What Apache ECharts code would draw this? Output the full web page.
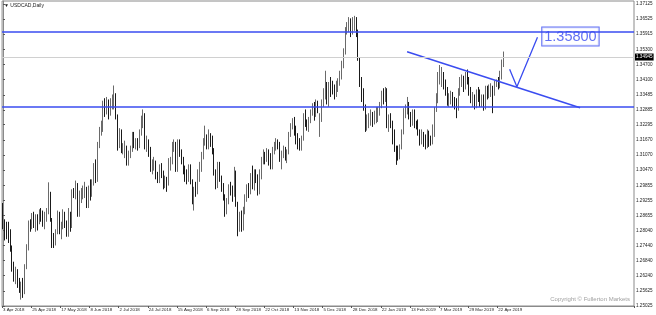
<!DOCTYPE html>
<html><head><meta charset="utf-8">
<script src="https://cdn.jsdelivr.net/npm/echarts@6/dist/echarts.min.js"></script>
<style>html,body{margin:0;padding:0;background:#fff}#c{width:656px;height:315px}</style>
</head><body><div id="c"></div>
<script>
const chartTitle = '\u25BC USDCAD,Daily';
const copyrightText = 'Copyright \u00A9 Fullerton Markets';
const dateTickLabels = ['3 Apr 2018','25 Apr 2018','17 May 2018','8 Jun 2018','2 Jul 2018','24 Jul 2018','15 Aug 2018','6 Sep 2018','28 Sep 2018','22 Oct 2018','13 Nov 2018','5 Dec 2018','28 Dec 2018','22 Jan 2019','13 Feb 2019','7 Mar 2019','29 Mar 2019','22 Apr 2019'];
const priceTicks = [1.37125,1.36525,1.35915,1.35300,1.34700,1.34100,1.33485,1.32885,1.32295,1.31670,1.31070,1.30470,1.29855,1.29255,1.28655,1.28040,1.27440,1.26840,1.26240,1.25625,1.25025];
const marketHolidays = ['25 Dec 2018','1 Jan 2019'];
// [open, close, low, high] one per trading day from 3 Apr 2018
const candles = [
[1.2895,1.2825,1.2810,1.2915],[1.2825,1.2810,1.2765,1.2850],[1.2810,1.2800,1.2770,1.2840],[1.2800,1.2795,1.2755,1.2840],
[1.2790,1.2730,1.2720,1.2810],[1.2730,1.2650,1.2640,1.2745],[1.2650,1.2615,1.2600,1.2680],[1.2615,1.2630,1.2590,1.2660],[1.2630,1.2595,1.2575,1.2650],
[1.2595,1.2575,1.2555,1.2615],[1.2575,1.2580,1.2528,1.2600],[1.2580,1.2560,1.2535,1.2615],[1.2560,1.2660,1.2550,1.2670],[1.2660,1.2740,1.2650,1.2750],
[1.2740,1.2830,1.2725,1.2845],[1.2830,1.2820,1.2800,1.2850],[1.2820,1.2865,1.2810,1.2875],[1.2865,1.2835,1.2815,1.2880],[1.2835,1.2840,1.2800,1.2870],
[1.2840,1.2835,1.2805,1.2870],[1.2835,1.2880,1.2830,1.2890],[1.2880,1.2870,1.2840,1.2895],[1.2870,1.2835,1.2820,1.2885],[1.2835,1.2860,1.2810,1.2880],
[1.2860,1.2885,1.2840,1.2895],[1.2885,1.2955,1.2870,1.2998],[1.2955,1.2850,1.2840,1.2960],[1.2850,1.2770,1.2735,1.2855],[1.2770,1.2765,1.2735,1.2795],
[1.2765,1.2795,1.2745,1.2810],[1.2795,1.2850,1.2790,1.2885],[1.2850,1.2810,1.2790,1.2880],[1.2810,1.2815,1.2770,1.2840],[1.2815,1.2870,1.2810,1.2890],
[1.2870,1.2830,1.2815,1.2880],[1.2830,1.2790,1.2780,1.2845],[1.2790,1.2860,1.2780,1.2895],[1.2860,1.2820,1.2800,1.2880],[1.2820,1.2960,1.2815,1.2970],
[1.2960,1.2950,1.2935,1.2975],[1.2950,1.2990,1.2930,1.3005],[1.2990,1.2870,1.2860,1.2995],[1.2870,1.2950,1.2860,1.2965],[1.2950,1.2950,1.2915,1.2975],
[1.2950,1.2965,1.2930,1.2985],[1.2965,1.2975,1.2935,1.3000],[1.2975,1.2905,1.2895,1.2980],[1.2905,1.2965,1.2895,1.2985],[1.2965,1.2960,1.2925,1.3010],
[1.2960,1.2995,1.2940,1.3010],[1.2995,1.3060,1.2985,1.3075],[1.3060,1.3010,1.2995,1.3090],[1.3010,1.3150,1.3000,1.3160],[1.3150,1.3210,1.3135,1.3220],
[1.3210,1.3220,1.3185,1.3245],[1.3220,1.3305,1.3200,1.3325],[1.3305,1.3285,1.3260,1.3335],[1.3285,1.3320,1.3270,1.3340],[1.3320,1.3275,1.3250,1.3330],
[1.3275,1.3305,1.3265,1.3335],[1.3305,1.3330,1.3290,1.3350],[1.3330,1.3340,1.3290,1.3386],[1.3340,1.3260,1.3250,1.3355],[1.3260,1.3150,1.3125,1.3270],
[1.3150,1.3200,1.3135,1.3215],[1.3200,1.3125,1.3115,1.3210],[1.3125,1.3130,1.3110,1.3155],[1.3130,1.3140,1.3095,1.3165],[1.3140,1.3080,1.3065,1.3145],
[1.3080,1.3110,1.3065,1.3125],[1.3110,1.3130,1.3095,1.3145],[1.3130,1.3190,1.3120,1.3200],[1.3190,1.3150,1.3135,1.3200],[1.3150,1.3160,1.3130,1.3175],
[1.3160,1.3155,1.3125,1.3175],[1.3155,1.3200,1.3135,1.3210],[1.3200,1.3250,1.3185,1.3265],[1.3250,1.3265,1.3215,1.3290],[1.3265,1.3150,1.3130,1.3275],
[1.3150,1.3160,1.3120,1.3185],[1.3160,1.3135,1.3100,1.3170],[1.3135,1.3050,1.3040,1.3140],[1.3050,1.3070,1.3030,1.3090],[1.3070,1.3075,1.3045,1.3100],
[1.3075,1.3020,1.3010,1.3085],[1.3020,1.3010,1.2995,1.3040],[1.3010,1.3055,1.2995,1.3070],[1.3055,1.3040,1.3015,1.3075],[1.3040,1.3000,1.2970,1.3045],
[1.3000,1.3000,1.2975,1.3025],[1.3000,1.2990,1.2960,1.3020],[1.2990,1.3080,1.2985,1.3095],[1.3080,1.3080,1.3045,1.3100],[1.3080,1.3145,1.3070,1.3160],
[1.3145,1.3150,1.3120,1.3170],[1.3150,1.3050,1.3040,1.3160],[1.3050,1.3160,1.3040,1.3170],[1.3160,1.3120,1.3100,1.3170],[1.3120,1.3090,1.3070,1.3130],
[1.3090,1.3050,1.3030,1.3100],[1.3050,1.3020,1.3000,1.3065],[1.3020,1.3010,1.2990,1.3050],[1.3010,1.3050,1.3000,1.3070],[1.3050,1.3000,1.2990,1.3070],
[1.3000,1.2920,1.2910,1.3010],[1.2920,1.2970,1.2885,1.2980],[1.2970,1.2960,1.2940,1.3000],[1.2960,1.3030,1.2950,1.3050],[1.3030,1.3050,1.3000,1.3080],
[1.3050,1.3110,1.3040,1.3120],[1.3110,1.3160,1.3090,1.3175],[1.3160,1.3180,1.3145,1.3225],[1.3180,1.3150,1.3130,1.3190],[1.3150,1.3180,1.3130,1.3210],
[1.3180,1.3170,1.3140,1.3195],[1.3170,1.3130,1.3110,1.3185],[1.3130,1.3040,1.3025,1.3135],[1.3040,1.2985,1.2970,1.3050],[1.2985,1.3070,1.2975,1.3080],
[1.3070,1.3010,1.3000,1.3080],[1.3010,1.2980,1.2960,1.3025],[1.2980,1.2940,1.2925,1.2995],[1.2940,1.2885,1.2860,1.2950],[1.2885,1.2920,1.2870,1.2935],
[1.2920,1.2980,1.2910,1.2990],[1.2980,1.2970,1.2945,1.3000],[1.2970,1.2950,1.2920,1.2985],[1.2950,1.3020,1.2940,1.3060],[1.3020,1.2910,1.2900,1.3045],
[1.2910,1.2830,1.2782,1.2920],[1.2830,1.2870,1.2800,1.2880],[1.2870,1.2810,1.2800,1.2885],[1.2810,1.2890,1.2805,1.2900],[1.2890,1.2940,1.2870,1.2950],
[1.2940,1.2970,1.2920,1.2990],[1.2970,1.2960,1.2935,1.2995],[1.2960,1.3010,1.2950,1.3035],[1.3010,1.2990,1.2970,1.3065],[1.2990,1.3035,1.2965,1.3050],
[1.3035,1.3020,1.2995,1.3050],[1.3020,1.2960,1.2945,1.3030],[1.2960,1.3030,1.2950,1.3050],[1.3030,1.3090,1.3010,1.3100],[1.3090,1.3105,1.3070,1.3130],
[1.3105,1.3095,1.3070,1.3120],[1.3095,1.3115,1.3080,1.3135],[1.3115,1.3095,1.3065,1.3130],[1.3095,1.3060,1.3050,1.3115],[1.3060,1.3130,1.3050,1.3140],
[1.3130,1.3150,1.3110,1.3160],[1.3150,1.3160,1.3125,1.3175],[1.3160,1.3150,1.3130,1.3170],[1.3150,1.3095,1.3080,1.3160],[1.3095,1.3110,1.3050,1.3125],
[1.3110,1.3130,1.3095,1.3145],[1.3130,1.3095,1.3085,1.3140],[1.3095,1.3120,1.3075,1.3130],[1.3120,1.3190,1.3110,1.3200],[1.3190,1.3225,1.3180,1.3235],
[1.3225,1.3240,1.3210,1.3255],[1.3240,1.3200,1.3185,1.3260],[1.3200,1.3165,1.3150,1.3225],[1.3165,1.3145,1.3130,1.3195],[1.3145,1.3140,1.3125,1.3175],
[1.3140,1.3175,1.3125,1.3185],[1.3175,1.3260,1.3165,1.3275],[1.3260,1.3240,1.3220,1.3290],[1.3240,1.3215,1.3205,1.3250],[1.3215,1.3245,1.3200,1.3260],
[1.3245,1.3280,1.3235,1.3290],[1.3280,1.3300,1.3265,1.3315],[1.3300,1.3270,1.3245,1.3320],[1.3270,1.3320,1.3260,1.3330],[1.3320,1.3300,1.3275,1.3325],
[1.3250,1.3260,1.3180,1.3275],[1.3260,1.3310,1.3240,1.3330],[1.3310,1.3360,1.3300,1.3375],[1.3360,1.3375,1.3330,1.3445],[1.3375,1.3320,1.3310,1.3400],
[1.3320,1.3395,1.3300,1.3400],[1.3395,1.3390,1.3340,1.3420],[1.3390,1.3370,1.3350,1.3405],[1.3370,1.3365,1.3330,1.3390],[1.3365,1.3385,1.3340,1.3405],
[1.3385,1.3400,1.3360,1.3415],[1.3400,1.3430,1.3385,1.3445],[1.3430,1.3470,1.3410,1.3485],[1.3470,1.3520,1.3455,1.3535],[1.3520,1.3600,1.3510,1.3620],
[1.3600,1.3625,1.3590,1.3640],[1.3625,1.3640,1.3600,1.3660],[1.3640,1.3600,1.3580,1.3655],[1.3600,1.3625,1.3590,1.3660],
[1.3625,1.3640,1.3605,1.3665],[1.3640,1.3600,1.3580,1.3660],[1.3600,1.3495,1.3485,1.3610],[1.3495,1.3390,1.3380,1.3500],
[1.3390,1.3340,1.3320,1.3420],[1.3340,1.3300,1.3285,1.3375],[1.3300,1.3230,1.3200,1.3310],[1.3230,1.3250,1.3205,1.3270],[1.3250,1.3250,1.3215,1.3275],
[1.3250,1.3265,1.3225,1.3290],[1.3265,1.3245,1.3220,1.3280],[1.3245,1.3270,1.3230,1.3285],[1.3270,1.3270,1.3235,1.3300],[1.3270,1.3280,1.3240,1.3300],
[1.3280,1.3310,1.3265,1.3320],[1.3310,1.3355,1.3295,1.3365],[1.3355,1.3330,1.3310,1.3375],[1.3330,1.3370,1.3320,1.3380],[1.3370,1.3225,1.3215,1.3375],
[1.3225,1.3250,1.3200,1.3270],[1.3250,1.3230,1.3215,1.3275],[1.3230,1.3200,1.3150,1.3245],[1.3200,1.3130,1.3120,1.3210],[1.3130,1.3120,1.3068,1.3145],
[1.3120,1.3110,1.3085,1.3145],[1.3110,1.3140,1.3090,1.3150],[1.3140,1.3200,1.3130,1.3210],[1.3200,1.3280,1.3190,1.3295],[1.3280,1.3285,1.3255,1.3310],
[1.3285,1.3310,1.3270,1.3340],[1.3310,1.3260,1.3250,1.3320],[1.3260,1.3240,1.3220,1.3280],[1.3240,1.3275,1.3225,1.3290],[1.3275,1.3230,1.3215,1.3290],
[1.3230,1.3225,1.3210,1.3245],[1.3225,1.3200,1.3185,1.3250],[1.3200,1.3160,1.3145,1.3210],[1.3160,1.3180,1.3150,1.3210],[1.3180,1.3160,1.3140,1.3200],
[1.3160,1.3150,1.3130,1.3190],[1.3150,1.3195,1.3135,1.3210],[1.3195,1.3170,1.3140,1.3205],[1.3170,1.3160,1.3145,1.3185],[1.3160,1.3200,1.3150,1.3230],
[1.3200,1.3290,1.3180,1.3300],[1.3290,1.3330,1.3280,1.3355],[1.3330,1.3410,1.3315,1.3440],[1.3410,1.3420,1.3390,1.3468],[1.3420,1.3420,1.3380,1.3460],
[1.3420,1.3385,1.3370,1.3440],[1.3385,1.3370,1.3345,1.3410],[1.3370,1.3320,1.3305,1.3380],[1.3320,1.3320,1.3300,1.3355],[1.3320,1.3355,1.3310,1.3365],
[1.3355,1.3320,1.3300,1.3360],[1.3320,1.3310,1.3290,1.3340],[1.3310,1.3290,1.3255,1.3335],[1.3290,1.3360,1.3285,1.3375],[1.3360,1.3410,1.3345,1.3420],
[1.3410,1.3410,1.3380,1.3430],[1.3410,1.3380,1.3360,1.3425],[1.3380,1.3420,1.3370,1.3440],[1.3420,1.3410,1.3390,1.3450],[1.3410,1.3355,1.3345,1.3420],
[1.3355,1.3330,1.3315,1.3380],[1.3330,1.3340,1.3300,1.3360],[1.3340,1.3305,1.3290,1.3350],[1.3305,1.3360,1.3295,1.3370],[1.3360,1.3355,1.3320,1.3380],
[1.3355,1.3315,1.3300,1.3370],[1.3315,1.3330,1.3300,1.3350],[1.3330,1.3300,1.3285,1.3350],[1.3300,1.3370,1.3290,1.3385],[1.3370,1.3355,1.3330,1.3385],
[1.3355,1.3365,1.3335,1.3390],[1.3365,1.3375,1.3340,1.3395],[1.3375,1.3355,1.3275,1.3385],[1.3355,1.3395,1.3345,1.3405],[1.3395,1.3400,1.3380,1.3410],
[1.3400,1.3385,1.3370,1.3420],[1.3385,1.3430,1.3375,1.3445],[1.3430,1.3470,1.3410,1.3490],[1.3470,1.3495,1.3460,1.3522]
];
const bidPrice = 1.34945;
const resistanceLevel = 1.3586;
const supportLevel = 1.3297;
const trendLinePoints = [[221.9, 1.3521], [316.9, 1.3297]];
const arrowPoints = [[278.2, 1.3451], [282.2, 1.3381], [293.5, 1.3579]];
const targetText = '1.35800';
const targetPoint = [311.6, 1.3582];
const totalSlots = 347;

const monthNames = ['Jan','Feb','Mar','Apr','May','Jun','Jul','Aug','Sep','Oct','Nov','Dec'];
const categories = [];
{
  const d = new Date(2018, 3, 3);
  while (categories.length < totalSlots) {
    const wd = d.getDay();
    const s = d.getDate() + ' ' + monthNames[d.getMonth()] + ' ' + d.getFullYear();
    if (wd !== 0 && wd !== 6 && !marketHolidays.includes(s)) categories.push(s);
    d.setDate(d.getDate() + 1);
  }
}
const blue = '#3a4cf0';
const font = 'Liberation Sans, Arial, sans-serif';
const chart = echarts.init(document.getElementById('c'), null, {renderer: 'canvas'});
const showTick = (i, v) => dateTickLabels.includes(v);
chart.setOption({
  animation: false,
  textStyle: {fontFamily: font},
  grid: {left: 1, right: 22, top: 1, bottom: 9, show: true, borderColor: '#8a8a8a', borderWidth: 1},
  xAxis: [{
    type: 'category', data: categories, boundaryGap: true,
    axisLine: {show: true, lineStyle: {color: '#8a8a8a'}},
    axisTick: {show: true, interval: showTick, length: 2, lineStyle: {color: '#555'}},
    axisLabel: {interval: showTick, align: 'left', fontSize: 4.4, color: '#222', margin: 2},
    splitLine: {show: false}
  }, {
    type: 'value', min: -0.5, max: totalSlots - 0.5, show: false
  }],
  yAxis: {
    type: 'value', position: 'right', min: 1.25025, max: 1.37245,
    axisLine: {show: true, lineStyle: {color: '#8a8a8a'}},
    axisTick: {show: true, customValues: priceTicks, length: 2, lineStyle: {color: '#555'}},
    axisLabel: {show: true, customValues: priceTicks, formatter: v => v.toFixed(5), fontSize: 4.6, color: '#222', margin: 2},
    splitLine: {show: false}
  },
  series: [{
    type: 'candlestick',
    data: candles,
    barWidth: 1.2,
    itemStyle: {color: '#9a9a9a', color0: '#111', borderColor: '#6a6a6a', borderColor0: '#1a1a1a', borderWidth: 1},
    markLine: {
      silent: true, symbol: 'none', animation: false,
      data: [
        {yAxis: bidPrice, lineStyle: {color: '#d0d0d0', width: 1, type: 'solid'},
         label: {show: true, position: 'end', formatter: bidPrice.toFixed(5), backgroundColor: '#000', color: '#fff', fontSize: 4.6, padding: [1, 1], distance: 1}},
        {yAxis: resistanceLevel, lineStyle: {color: blue, width: 1.5, type: 'solid'}, label: {show: false}},
        {yAxis: supportLevel, lineStyle: {color: blue, width: 1.5, type: 'solid'}, label: {show: false}}
      ]
    }
  }, {
    type: 'line', xAxisIndex: 1, data: trendLinePoints, symbol: 'none',
    lineStyle: {color: blue, width: 1.5}, silent: true
  }, {
    type: 'line', xAxisIndex: 1, data: arrowPoints, symbol: 'none',
    lineStyle: {color: blue, width: 1.3}, silent: true
  }, {
    type: 'scatter', xAxisIndex: 1, data: [targetPoint], symbolSize: 1,
    itemStyle: {color: 'rgba(0,0,0,0)'}, silent: true,
    label: {show: true, position: 'inside', formatter: targetText, color: blue, fontSize: 14.5, fontFamily: font,
      backgroundColor: '#fff', borderColor: blue, borderWidth: 1, padding: [2, 2, 1, 2]}
  }],
  graphic: [
    {type: 'text', left: 4, top: 3, style: {text: chartTitle, fontSize: 5, fill: '#222', fontFamily: font}},
    {type: 'text', right: 26, top: 296, style: {text: copyrightText, fontSize: 6, fill: '#a0a0a0', fontFamily: font}}
  ]
});
</script></body></html>
